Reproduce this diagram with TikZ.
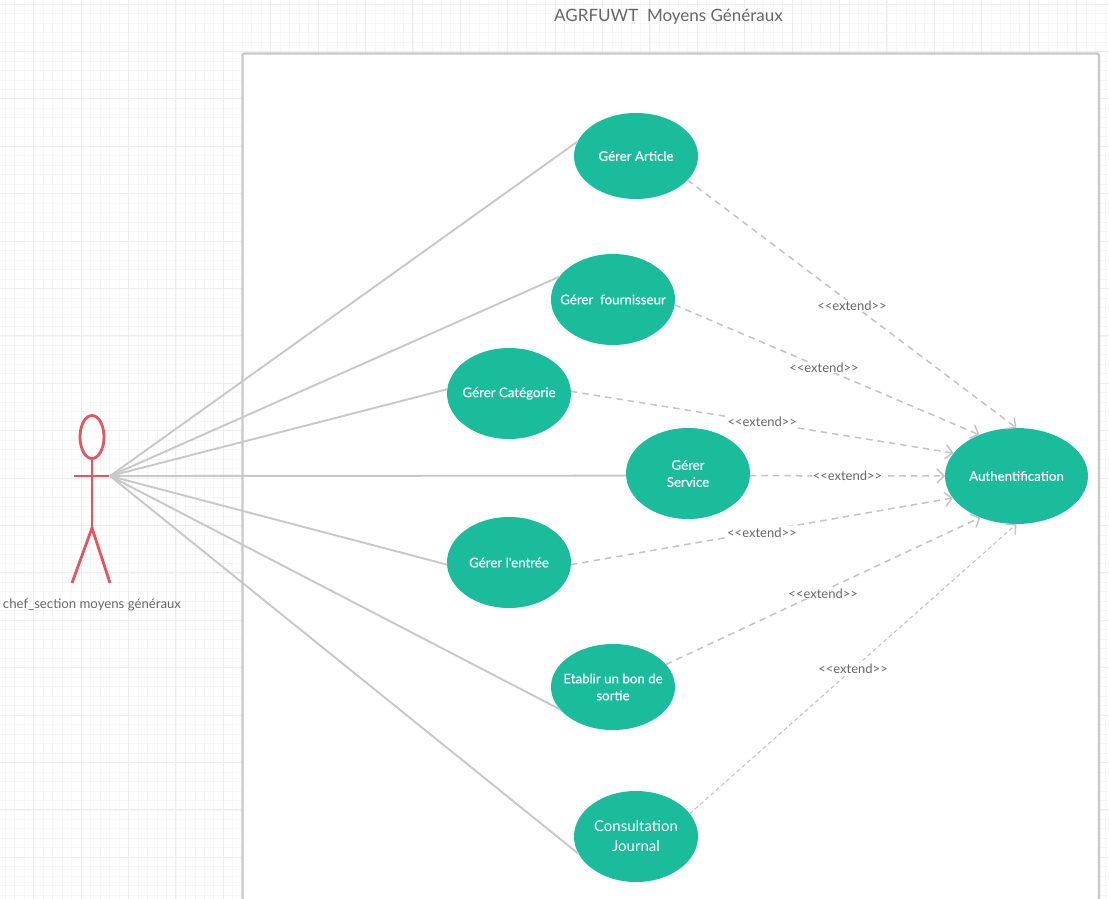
\documentclass[tikz,border=0pt]{standalone}
\usepackage{fontspec}
\setmainfont{Lato}
\newfontfamily\ucfont[FakeBold=0.35]{Lato}
\usetikzlibrary{shapes.geometric,arrows.meta}
\definecolor{uc}{HTML}{1ABC9C}
\definecolor{act}{HTML}{E9535F}
\definecolor{edge}{HTML}{C8C8C8}
\definecolor{dash}{HTML}{C4C4C4}
\definecolor{txt}{HTML}{666666}
\definecolor{gridc}{HTML}{F6F6F6}
\definecolor{gridm}{HTML}{EDEDED}
\tikzset{
  x=1pt,y=-1pt,
  usecase/.style={ellipse,fill=uc,draw=none,inner xsep=-22pt,inner ysep=-5pt,outer sep=0pt,text=white,align=center,font=\ucfont\fontsize{13.3}{17}\selectfont,minimum width=124pt,minimum height=91pt},
  assoc/.style={draw=edge,line width=1.9pt},
  ext/.style={draw=dash,line width=1.5pt,dash pattern=on 6.5pt off 5pt,-{Straight Barb[length=7pt,width=14pt,line width=1.5pt]}},
  extlabel/.style={fill=white,inner sep=1pt,text=txt,font=\fontsize{13}{15}\selectfont},
  actorline/.style={draw=act,line width=2.8pt},
}
\begin{document}
\begin{tikzpicture}
\useasboundingbox (0,0) rectangle (1109,899);
\fill[white] (0,0) rectangle (1109,899);
\foreach \i in {0,...,117} {\pgfmathsetmacro\xx{5.3+9.48*\i}
  \draw[gridc,line width=.8pt] (\xx,0) -- (\xx,899);}
\foreach \i in {0,...,95} {\pgfmathsetmacro\yy{4.1+9.48*\i}
  \draw[gridc,line width=.8pt] (0,\yy) -- (1109,\yy);}
\foreach \i in {0,...,23} {\pgfmathsetmacro\xx{33.7+47.4*\i}
  \draw[gridm,line width=.9pt] (\xx,0) -- (\xx,899);}
\foreach \i in {0,...,18} {\pgfmathsetmacro\yy{4.1+47.4*\i}
  \draw[gridm,line width=.9pt] (0,\yy) -- (1109,\yy);}
\draw[edge,line width=2.4pt,fill=white,rounded corners=1.5pt] (242.5,905) -- (242.5,53.5) -- (1099,53.5) -- (1099,905);
\node[text=txt,font=\fontsize{17}{19}\selectfont] (title) at (668.5,17) {AGRFUWT\ \ Moyens Généraux};

% actor
\node[ellipse,draw=act,line width=2.8pt,fill=white,inner sep=0pt,minimum width=24pt,minimum height=43pt] (head) at (92,437) {};
\coordinate (hip) at (92,528);
\coordinate (armL) at (74,476);
\coordinate (armR) at (109,476);
\coordinate (legL) at (72,583);
\coordinate (legR) at (110,583);
\coordinate (hand) at (110,476);
\draw[actorline] (head.south) -- (hip);
\draw[actorline] (armL) -- (armR);
\draw[actorline] (legL) -- (hip) -- (legR);
\node[text=txt,font=\fontsize{13.2}{15}\selectfont] (actorname) at (92,605) {chef\_section moyens généraux};

% use cases
\node[usecase,minimum height=86pt] (art) at (636,156) {Gérer Article};
\node[usecase] (four) at (613,299.5) {Gérer\ \ fournisseur};
\node[usecase] (cat) at (509,393.5) {\raisebox{-1pt}{Gérer Catégorie}};
\node[usecase] (serv) at (688,473.5) {Gérer\\Service};
\node[usecase] (ent) at (509,562.5) {Gérer l'entrée};
\node[usecase,minimum height=86pt] (bon) at (613,687) {Etablir un bon de\\sortie};
\node[usecase,font=\fontsize{15}{20}\selectfont] (cons) at (636,836.5) {Consultation\\Journal};
\node[usecase,minimum width=143pt,minimum height=96pt] (auth) at (1016.5,476) {Authentification};

% associations
\draw[assoc] (hand) -- (art.166);
\draw[assoc] (hand) -- (four.157);
\draw[assoc] (hand) -- (cat.176);
\draw[assoc] (hand) -- (serv.182);
\draw[assoc] (hand) -- (ent.182);
\draw[assoc] (hand) -- (bon.203);
\draw[assoc] (hand) -- (cons.197);

% extends
\draw[ext] (art.-25) -- node[extlabel,pos=.5,yshift=-2pt]{<{}<extend>{}>} (auth.90);
\draw[ext] (four.-5) -- node[extlabel,pos=.49,yshift=1pt]{<{}<extend>{}>} (auth.132);
\draw[ext] (cat.2) -- node[extlabel]{<{}<extend>{}>} (auth.160);
\draw[ext] (serv.-2) -- node[extlabel,pos=.5]{<{}<extend>{}>} (auth.180);
\draw[ext] (ent.-2) -- node[extlabel,yshift=-1pt]{<{}<extend>{}>} (auth.199);
\draw[ext] (bon.23) -- node[extlabel,pos=.5,yshift=-2.5pt]{<{}<extend>{}>} (auth.229);
\draw[ext,line width=1.1pt,dash pattern=on 4pt off 3pt] (cons.23) -- node[extlabel]{<{}<extend>{}>} (auth.270);
\end{tikzpicture}
\end{document}
